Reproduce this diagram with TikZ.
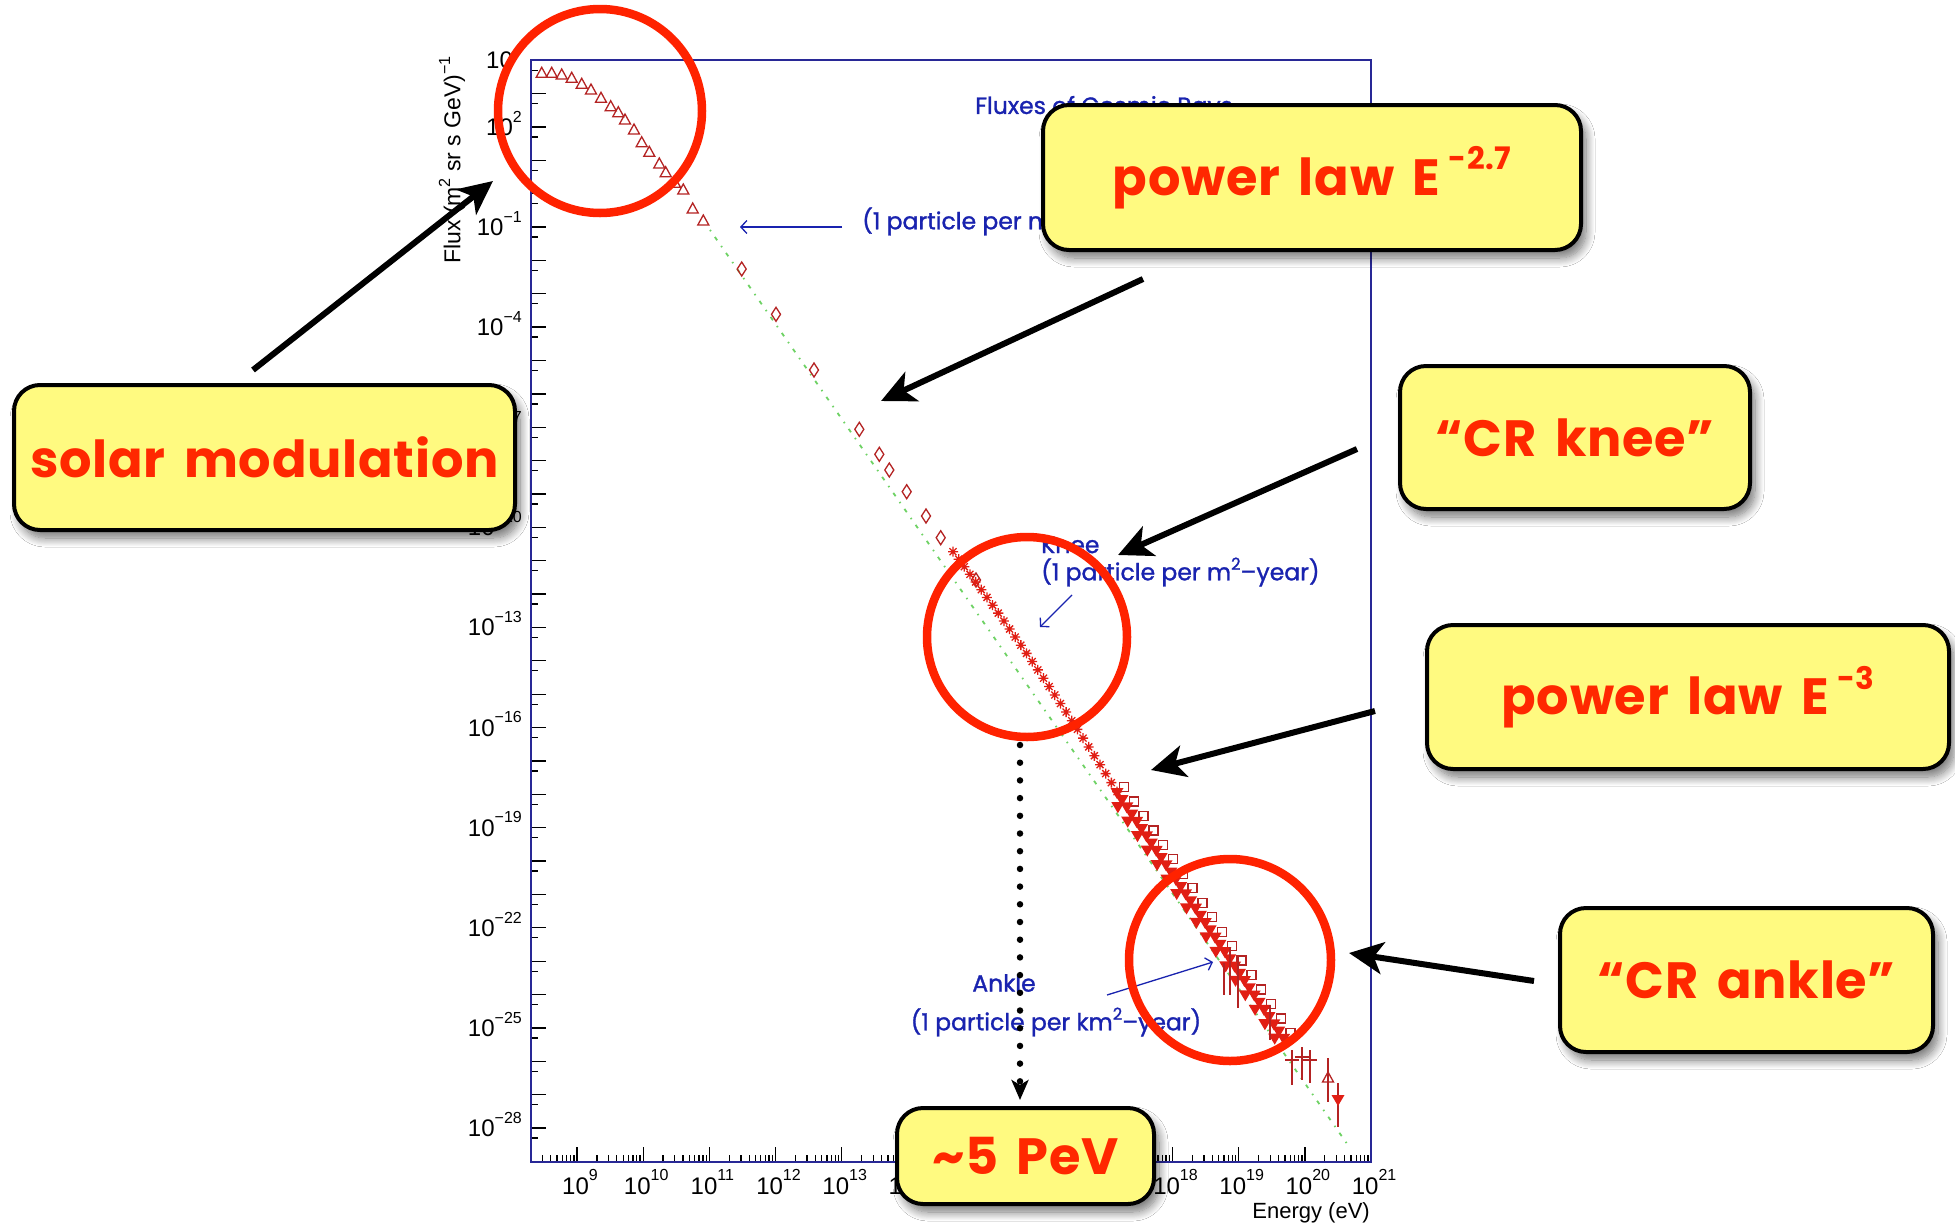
\documentclass[tikz,border=0pt]{standalone}
\usepackage{graphicx}
\usepackage{fontspec}
\setmainfont{Liberation Sans}
\newfontfamily\callfont{Poppins}[LetterSpace=1.5,WordSpace=1.6]
\newfontfamily\plotfont{Poppins}[FakeBold=1.2]
\usetikzlibrary{arrows.meta,shadows,shadows.blur}
\definecolor{boxyellow}{RGB}{255,250,128}
\definecolor{callred}{RGB}{255,40,0}
\definecolor{ringred}{RGB}{255,34,0}
\definecolor{plotblue}{RGB}{25,35,175}
\definecolor{frameblue}{RGB}{40,40,150}
\definecolor{datared}{RGB}{180,35,35}
\definecolor{starred}{RGB}{225,30,20}
\definecolor{fitgreen}{RGB}{110,210,100}
\newcommand\axsup[1]{\raisebox{0.55em}{\fontsize{16}{16}\selectfont #1}}
\newcommand\smsup[1]{\raisebox{0.45em}{\scalebox{0.7}{#1}}}
\newcommand\csup[1]{\,\raisebox{0.5em}{\fontsize{31}{31}\selectfont #1}}
\newcommand\optri[2]{\draw[datared,line width=1.3pt] (#1,#2) +(0,-6) -- +(5.5,4) -- +(-5.5,4) -- cycle;}
\newcommand\opdia[2]{\draw[datared,line width=1.3pt] (#1,#2) +(0,-7) -- +(4.5,0) -- +(0,7) -- +(-4.5,0) -- cycle;}
\newcommand\astk[2]{\draw[starred,line width=1.3pt] (#1,#2) +(-5,0) -- +(5,0) +(0,-5) -- +(0,5) +(-3.5,-3.5) -- +(3.5,3.5) +(-3.5,3.5) -- +(3.5,-3.5);}
\newcommand\fltri[2]{\fill[starred] (#1,#2) +(0,6) -- +(6.5,-5) -- +(-6.5,-5) -- cycle;}
\newcommand\opsq[2]{\draw[datared,line width=1.3pt] (#1,#2) +(-4.5,-4.5) rectangle +(4.5,4.5);}
\newcommand\ebar[3]{\draw[datared,line width=1.3pt] (#1,#2) -- (#1,#3);}
\tikzset{
  callout/.style={draw=black, line width=4pt, fill=boxyellow, rounded corners=26pt,
    text=callred, font=\callfont\bfseries\fontsize{51}{60}\selectfont, inner sep=0pt,
    blur shadow={shadow xshift=5pt, shadow yshift=-8pt, shadow blur radius=9pt,
      shadow blur steps=12, shadow opacity=55}},
  ring/.style={draw=ringred, line width=8.5pt},
  bigarrow/.style={draw=black, line width=6pt, -{Stealth[length=34pt,width=32pt,inset=9pt]}},
  dotarrow/.style={draw=black, line width=6.5pt, line cap=round, dash pattern=on 0pt off 17.7pt,
    -{Stealth[length=20pt,width=17pt,inset=5pt]}},
  plottext/.style={text=plotblue, font=\plotfont\fontsize{23.5}{26}\selectfont, inner sep=0pt},
  bluearrow/.style={draw=plotblue, line width=1.3pt, -{Straight Barb[length=6pt,width=13pt]}},
  axlabel/.style={font=\fontsize{24}{24}\selectfont, inner sep=0pt},
  majtick/.style={draw=black, line width=1.3pt},
}
\begin{document}
\begin{tikzpicture}[x=1pt,y=-1pt]
\useasboundingbox (0,0) rectangle (1955,1224);
\fill[white] (0,0) rectangle (1955,1224);

% ---- axes ticks
\foreach \d in {4,3,...,-29}{
  \pgfmathsetmacro\yy{1128-(\d+28)*33.37}
  \draw[majtick] (531,\yy) -- (546,\yy);
}
\foreach \d in {4,3,...,-28}{
  \pgfmathsetmacro\yy{1128-(\d+28)*33.37+10}
  \draw[majtick] (531,\yy) -- (538,\yy);
}
\foreach \e in {9,...,21}{
  \pgfmathsetmacro\xx{577+(\e-9)*66.17}
  \draw[majtick] (\xx,1162) -- (\xx,1147);
}
\foreach \e in {8,...,20}{
  \foreach \m in {2,...,9}{
    \pgfmathsetmacro\xx{577+(\e-9+log10(\m))*66.17}
    \draw[majtick] (\xx,1162) -- (\xx,1155);
  }
}
\draw[frameblue, line width=1.6pt] (531,60) rectangle (1371,1162);

% ---- axis labels
\foreach \d/\s in {4/4,2/2,-1/−1,-4/−4,-7/−7,-10/−10,-13/−13,-16/−16,-19/−19,-22/−22,-25/−25,-28/−28}{
  \pgfmathsetmacro\yy{1128-(\d+28)*33.37+8.5}
  \node[axlabel, anchor=base east] (yl\d) at (522,\yy) {10\axsup{\s}};
}
\foreach \e in {9,...,21}{
  \pgfmathsetmacro\xx{580+(\e-9)*66.17}
  \node[axlabel, anchor=base] (xl\e) at (\xx,1194) {10\axsup{\e}};
}
\node[font=\fontsize{23}{23}\selectfont, rotate=90, inner sep=0pt] (ytitle) at (452,160) {Flux (m\smsup{2} sr s GeV)\smsup{−1}};
\node[font=\fontsize{22}{22}\selectfont, anchor=east, inner sep=0pt] (xtitle) at (1370,1213) {Energy (eV)};

% ---- fit line
\coordinate (fitA) at (710,230);
\coordinate (fitB) at (1350,1148);
\draw[fitgreen, line width=1.8pt, dash pattern=on 1.5pt off 7pt on 4pt off 7pt] (fitA) -- (fitB);

% ---- data: triangles
\foreach \x/\y in {541.7/73.3,551.7/73.3,561.7/75,571.7/78.3,581.7/84.3,591/90,601/98.3,610.7/106.7,618.3/112.7,625/120,634/130,641.7/142.7,649.3/152.3,659.3/164,665.7/172.7,675/183.3,683.3/190,692.7/209,703.3/221}{
  \optri{\x}{\y}
}
% diamonds
\foreach \x/\y in {741.7/269,776/314.3,814/370,859.3/429.3,879.3/454.3,889.3/470,906.7/491.7,926/516,940.7/537.7,976/580}{
  \opdia{\x}{\y}
}
% stars
\foreach \i in {0,...,29}{
  \pgfmathsetmacro\t{\i/29}
  \pgfmathsetmacro\xx{953+164*\t}
  \pgfmathsetmacro\yy{551.7+240*\t-24*\t*(1-\t)}
  \astk{\xx}{\yy}
}
% dense high-energy band
\foreach \i in {0,2,...,34}{
  \pgfmathsetmacro\xx{1124+\i*4.9}
  \pgfmathsetmacro\yy{787+\i*4.9*1.476}
  \opsq{\xx}{\yy}
}
\foreach \i in {0,...,34}{
  \pgfmathsetmacro\xx{1117+\i*4.9}
  \pgfmathsetmacro\yy{793+\i*4.9*1.476}
  \fltri{\xx}{\yy}
}
\foreach \i in {1,3,...,33}{
  \pgfmathsetmacro\xx{1113+\i*4.9}
  \pgfmathsetmacro\yy{800+\i*4.9*1.476}
  \fltri{\xx}{\yy}
}
\ebar{1224}{963}{995}
\ebar{1230}{947}{995}
\ebar{1238}{955}{1008}
\ebar{1270}{1005}{1040}
\ebar{1292}{1050}{1085}
\ebar{1302}{1047}{1080}
\ebar{1310}{1050}{1083}
\draw[datared,line width=1.3pt] (1285,1060) -- (1299,1060) (1295,1057) -- (1309,1057) (1303,1060) -- (1317,1060);
\ebar{1328}{1058}{1102}
\optri{1328}{1078}
\ebar{1338}{1083}{1127}
\fltri{1338}{1100}

% ---- blue annotations
\node[plottext, anchor=west] (title) at (975,108) {Fluxes of Cosmic Rays};
\node[plottext, anchor=west] (lab1) at (862,221) {(1 particle per m\smsup{2}–second)};
\coordinate (b1s) at (842,227);
\coordinate (b1e) at (740,227);
\draw[bluearrow] (b1s) -- (b1e);
\node[plottext, anchor=west] (kneet) at (1041,545) {Knee};
\node[plottext, anchor=west] (kneel) at (1041,572) {(1 particle per m\smsup{2}–year)};
\coordinate (b2s) at (1072,595);
\coordinate (b2e) at (1040,627);
\draw[bluearrow] (b2s) -- (b2e);
\node[plottext] (anklet) at (1004,983) {Ankle};
\node[plottext] (anklel) at (1056,1022) {(1 particle per km\smsup{2}–year)};
\coordinate (b3s) at (1107,995);
\coordinate (b3e) at (1213,962);
\draw[bluearrow] (b3s) -- (b3e);

% ---- red rings
\draw[ring] (600,111) circle[radius=102pt];
\draw[ring] (1027,637) circle[radius=100pt];
\draw[ring] (1230,960) circle[radius=101pt];

% ---- callouts
\node[callout, minimum width=501pt, minimum height=145pt] (solar) at (264.5,457.5) {solar modulation};
\node[callout, minimum width=538pt, minimum height=145pt] (pl27) at (1312,177.5) {power law E\csup{-2.7}};
\node[callout, minimum width=350pt, minimum height=143pt] (knee) at (1575,437.5) {“CR knee”};
\node[callout, minimum width=522pt, minimum height=144pt] (pl3) at (1688,697) {power law E\csup{-3}};
\node[callout, minimum width=373pt, minimum height=144pt] (ankle) at (1746.5,980) {“CR ankle”};
\node[callout, minimum width=257pt, minimum height=96pt] (pev) at (1025.5,1156) {\textasciitilde 5 PeV};

% ---- black arrows
\coordinate (a1s) at (253,370);
\coordinate (a1e) at (493,181);
\draw[bigarrow] (a1s) -- (a1e);
\coordinate (a2s) at (1143,279);
\coordinate (a2e) at (881,401);
\draw[bigarrow] (a2s) -- (a2e);
\coordinate (a3s) at (1357,449);
\coordinate (a3e) at (1118,555);
\draw[bigarrow] (a3s) -- (a3e);
\coordinate (a4s) at (1375,711);
\coordinate (a4e) at (1151,770);
\draw[bigarrow] (a4s) -- (a4e);
\coordinate (a5s) at (1534,981);
\coordinate (a5e) at (1349,953);
\draw[bigarrow] (a5s) -- (a5e);
\coordinate (dots) at (1020,745);
\draw[dotarrow, shorten >=6pt] (dots) -- (dots |- pev.north);
\end{tikzpicture}
\end{document}
